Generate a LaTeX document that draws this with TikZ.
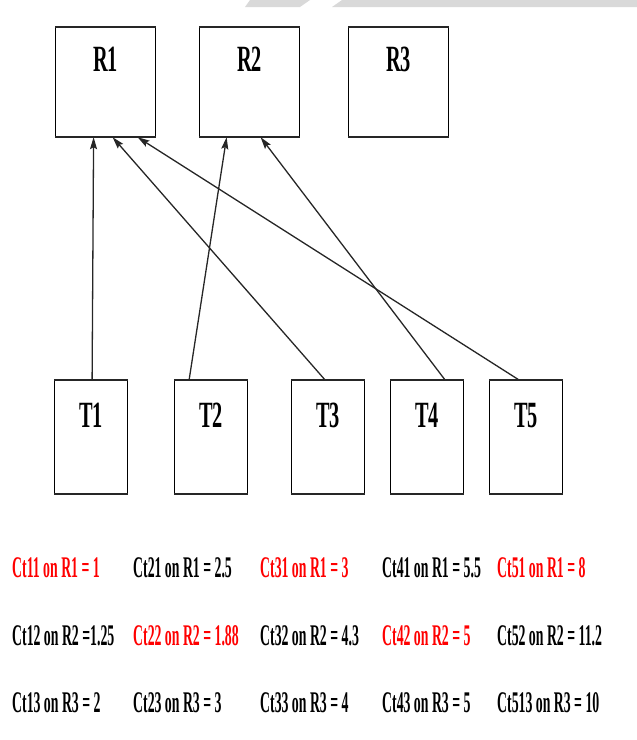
\documentclass[tikz,border=0pt]{standalone}
\usepackage{fontspec}
\setmainfont{Liberation Serif}
\newfontfamily\boxfont[FakeStretch=0.55]{Liberation Serif Bold}
\newfontfamily\rowfont[FakeStretch=0.46]{Liberation Serif Bold}
\usetikzlibrary{arrows.meta}
\definecolor{myred}{RGB}{255,0,0}
\definecolor{bannergray}{RGB}{217,217,217}
\begin{document}
\begin{tikzpicture}[x=1pt,y=-1pt,
  box/.style={draw=black, line width=1.2pt, inner sep=0pt, anchor=north west, fill=white},
  rbox/.style={box, minimum width=100pt, minimum height=109pt},
  tbox/.style={box, minimum width=73pt, minimum height=113pt},
  lbl/.style={font=\boxfont\fontsize{37}{37}\selectfont, anchor=base, inner sep=0pt},
  rlbl/.style={label={[lbl, yshift=-44pt]north:#1}},
  tlbl/.style={label={[lbl, yshift=-47pt]north:#1}},
  edgeline/.style={line width=2.2pt, black!85},
  conn/.style={draw=black!85, line width=1.3pt, -{Stealth[length=12pt, width=7pt, inset=2pt]}},
  rowtxt/.style={font=\rowfont\fontsize{30}{30}\selectfont, anchor=base west, inner sep=0pt},
  hot/.style={rowtxt, text=myred},
  cold/.style={rowtxt, text=black}
]
\path[use as bounding box] (0,0) rectangle (637,740);

% banner
\fill[bannergray] (245,7) -- (250,0) -- (310,0) -- (300,7) -- cycle;
\fill[bannergray] (332,7) -- (342,0) -- (637,0) -- (637,7) -- cycle;

% resource boxes
\node[rbox, rlbl=R1] (R1) at (55,27) {};
\node[rbox, rlbl=R2] (R2) at (199,27) {};
\node[rbox, rlbl=R3] (R3) at (348,27) {};

% task boxes
\node[tbox, tlbl=T1] (T1) at (54,380) {};
\node[tbox, tlbl=T2] (T2) at (174,380) {};
\node[tbox, tlbl=T3] (T3) at (291,380) {};
\node[tbox, tlbl=T4] (T4) at (390,380) {};
\node[tbox, tlbl=T5] (T5) at (489,380) {};

\foreach \n in {R1,R2,R3,T1,T2,T3,T4,T5}{
  \draw[edgeline] (\n.north west) -- (\n.north east);
  \draw[edgeline] (\n.south west) -- (\n.south east);
}

% connectors
\draw[conn] ([xshift=1pt]T1.north) -- ([xshift=-12pt]R1.south);
\draw[conn] ([xshift=-22pt]T2.north) -- ([xshift=-23pt]R2.south);
\draw[conn] ([xshift=-3pt]T3.north) -- ([xshift=7pt]R1.south);
\draw[conn] ([xshift=18pt]T4.north) -- ([xshift=11pt]R2.south);
\draw[conn] ([xshift=-7pt]T5.north) -- ([xshift=32pt]R1.south);

% cost table
\node[hot]  (c11) at (12,577) {Ct11 on R1 = 1};
\node[cold] (c21) at (133,577) {Ct21 on R1 = 2.5};
\node[hot]  (c31) at (260,577) {Ct31 on R1 = 3};
\node[cold] (c41) at (382,577) {Ct41 on R1 = 5.5};
\node[hot]  (c51) at (497,577) {Ct51 on R1 = 8};

\node[cold] (c12) at (12,645) {Ct12 on R2 =1.25};
\node[hot]  (c22) at (133,645) {Ct22 on R2 = 1.88};
\node[cold] (c32) at (260,645) {Ct32 on R2 = 4.3};
\node[hot]  (c42) at (382,645) {Ct42 on R2 = 5};
\node[cold] (c52) at (497,645) {Ct52 on R2 = 11.2};

\node[cold] (c13) at (12,712) {Ct13 on R3 = 2};
\node[cold] (c23) at (133,712) {Ct23 on R3 = 3};
\node[cold] (c33) at (260,712) {Ct33 on R3 = 4};
\node[cold] (c43) at (382,712) {Ct43 on R3 = 5};
\node[cold] (c53) at (497,712) {Ct513 on R3 = 10};
\end{tikzpicture}
\end{document}
